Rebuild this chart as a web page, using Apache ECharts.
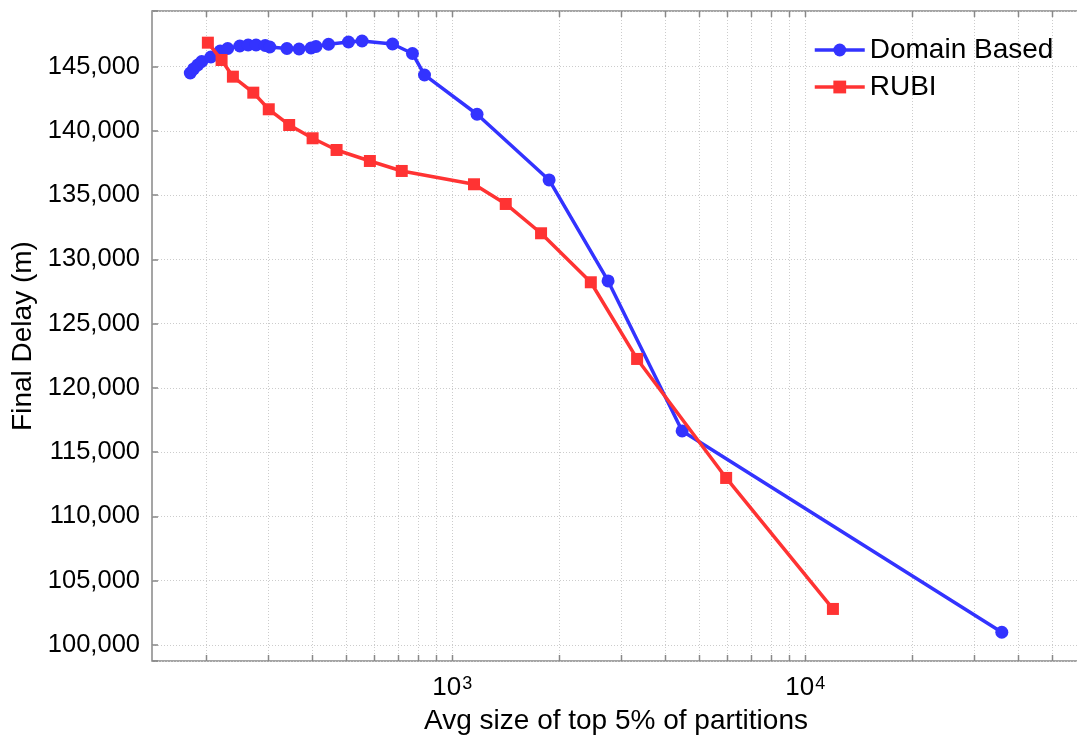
<!DOCTYPE html>
<html><head><meta charset="utf-8">
<script src="https://cdn.jsdelivr.net/npm/echarts@6/dist/echarts.min.js"></script>
<style>html,body{margin:0;padding:0;background:#fff}#c{width:1077px;height:740px}</style>
</head><body><div id="c"></div>
<script>
// Domain Based series
const domainX = [181, 185, 190, 195, 207, 220, 231, 250, 264, 278, 295, 304, 340, 368, 398, 411, 446, 508, 555, 677, 771, 834, 1175, 1880, 2762, 4478, 36030];
const domainY = [144507, 144819, 145130, 145402, 145752, 146219, 146414, 146608, 146686, 146686, 146647, 146530, 146414, 146375, 146453, 146569, 146741, 146919, 146997, 146764, 146025, 144352, 141294, 136182, 128323, 116651, 100988];
// RUBI series
const rubiX = [203, 222, 239, 273, 302, 345, 402, 470, 584, 719, 1152, 1417, 1784, 2468, 3338, 5967, 11973];
const rubiY = [146865, 145519, 144220, 142975, 141683, 140461, 139426, 138516, 137660, 136882, 135847, 134314, 132034, 128221, 122254, 112994, 102801];
// x grid / tick positions (log axis)
const xGridValues = [200, 300, 400, 500, 600, 700, 800, 900, 1000, 2000, 3000, 4000, 5000, 6000, 7000, 8000, 9000, 10000, 20000, 30000, 40000, 50000];
const seriesNames = ['Domain Based', 'RUBI'];

const X_MIN = 141, X_MAX = 60000;
const Y_MIN = 98750, Y_MAX = 149330;
const FONT = "'Liberation Sans', Arial, sans-serif";

const chart = echarts.init(document.getElementById('c'), null, {renderer: 'canvas'});
chart.setOption({
  animation: false,
  backgroundColor: '#fff',
  grid: {left: 152, top: 11, right: -3, bottom: 79, show: true, borderColor: '#888', borderWidth: 1.5, outerBoundsMode: 'none', containLabel: false},
  legend: {
    data: seriesNames, orient: 'vertical', left: 808, top: 31,
    itemWidth: 50, itemHeight: 16, itemGap: 9,
    lineStyle: {width: 3.5},
    textStyle: {fontSize: 28, color: '#000', fontFamily: FONT}
  },
  xAxis: {
    type: 'log', logBase: 10, min: X_MIN, max: X_MAX,
    name: 'Avg size of top 5% of partitions', nameLocation: 'middle', nameGap: 46,
    nameTextStyle: {fontSize: 28, color: '#000', fontFamily: FONT},
    axisLine: {show: false}, axisTick: {show: false}, splitLine: {show: false}, minorTick: {show: false},
    axisLabel: {
      margin: 14, color: '#000', fontFamily: FONT, showMinLabel: false, showMaxLabel: false,
      formatter: function (v) {
        const e = Math.log10(v);
        const r = Math.round(e);
        if (Math.abs(e - r) < 1e-6) return '{b|10}{s|' + r + '}';
        return '';
      },
      rich: {
        b: {fontSize: 26, color: '#000', fontFamily: FONT, verticalAlign: 'bottom'},
        s: {fontSize: 18, color: '#000', fontFamily: FONT, verticalAlign: 'top', padding: [0, 0, 0, 1]}
      }
    }
  },
  yAxis: {
    type: 'value', min: Y_MIN, max: Y_MAX, splitNumber: 10,
    name: 'Final Delay (m)', nameLocation: 'middle', nameGap: 93,
    nameTextStyle: {fontSize: 28, color: '#000', fontFamily: FONT},
    axisLine: {show: false},
    axisTick: {show: true, inside: true, length: 6, lineStyle: {color: '#888', width: 1.5}},
    splitLine: {show: true, lineStyle: {color: '#cccccc', width: 1, type: [1, 2]}},
    axisLabel: {
      margin: 12, fontSize: 25.5, color: '#000', fontFamily: FONT,
      formatter: function (v) { return (v % 5000 === 0) ? v.toLocaleString('en-US') : ''; }
    }
  },
  series: [
    {
      type: 'custom', silent: true, z: 1, clip: false,
      data: xGridValues.map(v => [v, Y_MIN]),
      encode: {x: 0, y: 1},
      renderItem: function (params, api) {
        const cs = params.coordSys;
        const px = Math.round(api.coord([api.value(0), api.value(1)])[0]) + 0.5;
        const bottom = cs.y + cs.height;
        return {type: 'group', children: [
          {type: 'line', shape: {x1: px, y1: cs.y, x2: px, y2: bottom}, style: {stroke: '#cccccc', lineWidth: 1, lineDash: [1, 2]}},
          {type: 'line', shape: {x1: px, y1: bottom, x2: px, y2: bottom - 6}, style: {stroke: '#888', lineWidth: 1.5}},
          {type: 'line', shape: {x1: px, y1: cs.y, x2: px, y2: cs.y + 6}, style: {stroke: '#888', lineWidth: 1.5}}
        ]};
      }
    },
    {
      name: seriesNames[0], type: 'line', z: 3,
      data: domainX.map((x, i) => [x, domainY[i]]),
      symbol: 'circle', symbolSize: 13, showAllSymbol: true,
      itemStyle: {color: '#3333ff'}, lineStyle: {color: '#3333ff', width: 3.5}
    },
    {
      name: seriesNames[1], type: 'line', z: 4,
      data: rubiX.map((x, i) => [x, rubiY[i]]),
      symbol: 'rect', symbolSize: 12, showAllSymbol: true,
      itemStyle: {color: '#ff3333'}, lineStyle: {color: '#ff3333', width: 3.5}
    }
  ]
});
</script>
</body></html>
